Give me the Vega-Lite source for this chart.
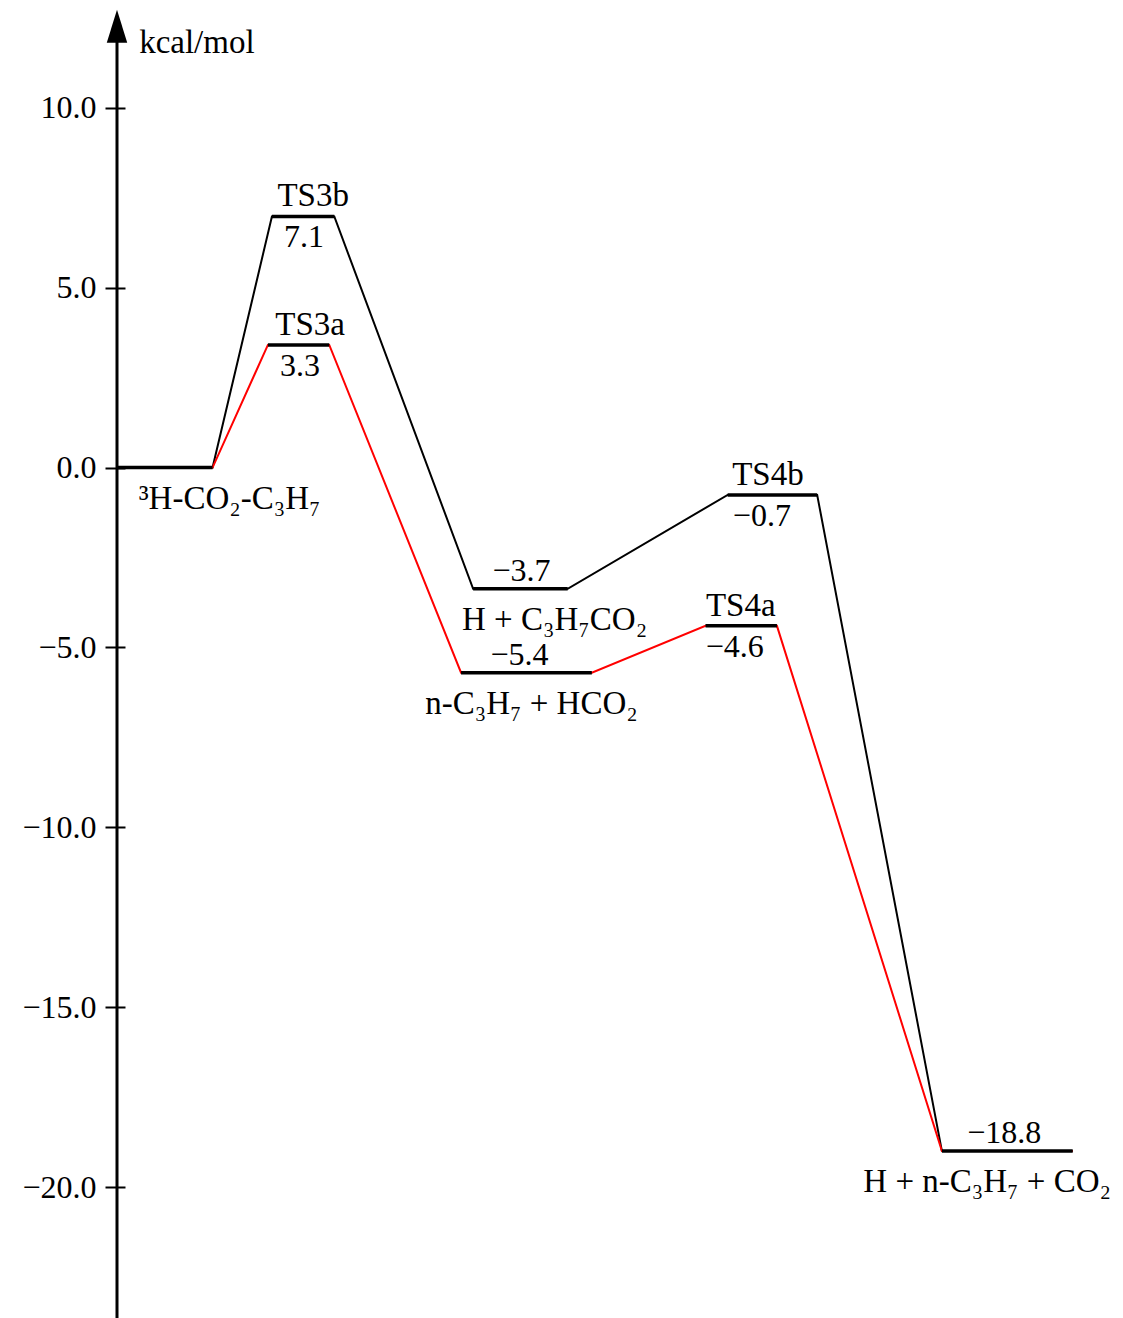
{
  "$schema": "https://vega.github.io/schema/vega-lite/v6.json",
  "width": 1006,
  "height": 1308,
  "autosize": {"type": "none"},
  "padding": {"left": 117, "top": 10, "right": 0, "bottom": 0},
  "background": "white",
  "config": {"view": {"stroke": null}, "font": "Liberation Serif"},
  "datasets": {
    "paths": [
      {"path": "b", "x": 0, "e": 0},
      {"path": "b", "x": 0.95, "e": 0},
      {"path": "b", "x": 1.54, "e": 6.98},
      {"path": "b", "x": 2.16, "e": 6.98},
      {"path": "b", "x": 3.54, "e": -3.37},
      {"path": "b", "x": 4.48, "e": -3.37},
      {"path": "b", "x": 6.07, "e": -0.76},
      {"path": "b", "x": 6.96, "e": -0.76},
      {"path": "b", "x": 8.2, "e": -19.0},
      {"path": "b", "x": 9.5, "e": -19.0},
      {"path": "a", "x": 0, "e": 0},
      {"path": "a", "x": 0.95, "e": 0},
      {"path": "a", "x": 1.5, "e": 3.41},
      {"path": "a", "x": 2.11, "e": 3.41},
      {"path": "a", "x": 3.42, "e": -5.7},
      {"path": "a", "x": 4.72, "e": -5.7},
      {"path": "a", "x": 5.85, "e": -4.4},
      {"path": "a", "x": 6.56, "e": -4.4},
      {"path": "a", "x": 8.2, "e": -19.0},
      {"path": "a", "x": 9.5, "e": -19.0}
    ],
    "levels": [
      {"state": "3H-CO2-C3H7", "x": 0, "x2": 0.95, "e": 0},
      {"state": "TS3b", "x": 1.54, "x2": 2.16, "e": 6.98},
      {"state": "TS3a", "x": 1.5, "x2": 2.11, "e": 3.41},
      {"state": "H + C3H7CO2", "x": 3.54, "x2": 4.48, "e": -3.37},
      {"state": "n-C3H7 + HCO2", "x": 3.42, "x2": 4.72, "e": -5.7},
      {"state": "TS4b", "x": 6.07, "x2": 6.96, "e": -0.76},
      {"state": "TS4a", "x": 5.85, "x2": 6.56, "e": -4.4},
      {"state": "H + n-C3H7 + CO2", "x": 8.2, "x2": 9.5, "e": -19.0}
    ],
    "labels": [
      {"text": "TS3b", "kind": "name", "side": "above", "x": 1.95, "e": 6.98},
      {"text": "7.1", "kind": "value", "side": "below", "x": 1.86, "e": 6.98},
      {"text": "TS3a", "kind": "name", "side": "above", "x": 1.92, "e": 3.41},
      {"text": "3.3", "kind": "value", "side": "below", "x": 1.82, "e": 3.41},
      {"text": "³H-CO₂-C₃H₇", "kind": "name", "side": "below", "x": 1.12, "e": 0},
      {"text": "−3.7", "kind": "value", "side": "above", "x": 4.02, "e": -3.37},
      {"text": "H + C₃H₇CO₂", "kind": "name", "side": "below", "x": 4.35, "e": -3.37},
      {"text": "−5.4", "kind": "value", "side": "above", "x": 4.0, "e": -5.7},
      {"text": "n-C₃H₇ + HCO₂", "kind": "name", "side": "below", "x": 4.12, "e": -5.7},
      {"text": "TS4b", "kind": "name", "side": "above", "x": 6.47, "e": -0.76},
      {"text": "−0.7", "kind": "value", "side": "below", "x": 6.41, "e": -0.76},
      {"text": "TS4a", "kind": "name", "side": "above", "x": 6.2, "e": -4.4},
      {"text": "−4.6", "kind": "value", "side": "below", "x": 6.14, "e": -4.4},
      {"text": "−18.8", "kind": "value", "side": "above", "x": 8.82, "e": -19.0},
      {"text": "H + n-C₃H₇ + CO₂", "kind": "name", "side": "below", "x": 8.65, "e": -19.0}
    ]
  },
  "layer": [
    {"data": {"name": "paths"}, "transform": [{"filter": "datum.path === 'b'"}],
     "mark": {"type": "line", "color": "black", "strokeWidth": 2},
     "encoding": {
       "x": {"field": "x", "type": "quantitative", "scale": {"domain": [0, 10], "nice": false, "zero": false}, "axis": null},
       "y": {
         "field": "e", "type": "quantitative",
         "scale": {"domain": [-23.64, 12.72], "nice": false, "zero": false},
         "axis": {
           "values": [-20, -15, -10, -5, 0, 5, 10], "format": ".1f",
           "domain": false, "grid": false, "ticks": true, "tickSize": 20, "tickWidth": 2, "tickColor": "black",
           "offset": -8, "labelFont": "Liberation Serif", "labelFontSize": 32, "labelColor": "black",
           "labelPadding": 9, "title": null
         }
       }
     }},
    {"data": {"name": "paths"}, "transform": [{"filter": "datum.path === 'a'"}],
     "mark": {"type": "line", "color": "#ff0000", "strokeWidth": 2},
     "encoding": {
       "x": {"field": "x", "type": "quantitative", "scale": {"domain": [0, 10], "nice": false, "zero": false}},
       "y": {"field": "e", "type": "quantitative", "scale": {"domain": [-23.64, 12.72], "nice": false, "zero": false}}
     }},
    {"data": {"name": "levels"},
     "mark": {"type": "rule", "color": "black", "strokeWidth": 3.5, "strokeCap": "butt"},
     "encoding": {
       "x": {"field": "x", "type": "quantitative", "scale": {"domain": [0, 10], "nice": false, "zero": false}},
       "x2": {"field": "x2"},
       "y": {"field": "e", "type": "quantitative", "scale": {"domain": [-23.64, 12.72], "nice": false, "zero": false}}
     }},
    {"data": {"values": [{}]},
     "mark": {"type": "rule", "color": "black", "strokeWidth": 3, "strokeCap": "butt"},
     "encoding": {
       "x": {"datum": 0, "type": "quantitative"},
       "y": {"datum": -23.64, "type": "quantitative"},
       "y2": {"datum": 11.9}
     }},
    {"data": {"values": [{}]},
     "mark": {"type": "point", "shape": "M0,-1L0.62,1L-0.62,1Z", "size": 1089, "filled": true, "color": "black", "opacity": 1, "strokeWidth": 0},
     "encoding": {
       "x": {"datum": 0, "type": "quantitative"},
       "y": {"datum": 12.27, "type": "quantitative"}
     }},
    {"data": {"values": [{"unit": "kcal/mol"}]},
     "mark": {"type": "text", "align": "left", "baseline": "alphabetic", "fontSize": 33, "font": "Liberation Serif", "color": "black"},
     "encoding": {
       "x": {"datum": 0.22, "type": "quantitative"},
       "y": {"datum": 11.53, "type": "quantitative"},
       "text": {"field": "unit"}
     }},
    {"data": {"name": "labels"}, "transform": [{"filter": "datum.kind === 'name' && datum.side === 'above'"}],
     "mark": {"type": "text", "align": "center", "baseline": "alphabetic", "dy": -10, "fontSize": 33, "font": "Liberation Serif", "color": "black"},
     "encoding": {
       "x": {"field": "x", "type": "quantitative"},
       "y": {"field": "e", "type": "quantitative"},
       "text": {"field": "text"}
     }},
    {"data": {"name": "labels"}, "transform": [{"filter": "datum.kind === 'name' && datum.side === 'below'"}],
     "mark": {"type": "text", "align": "center", "baseline": "alphabetic", "dy": 41, "fontSize": 33, "font": "Liberation Serif", "color": "black"},
     "encoding": {
       "x": {"field": "x", "type": "quantitative"},
       "y": {"field": "e", "type": "quantitative"},
       "text": {"field": "text"}
     }},
    {"data": {"name": "labels"}, "transform": [{"filter": "datum.kind === 'value' && datum.side === 'above'"}],
     "mark": {"type": "text", "align": "center", "baseline": "alphabetic", "dy": -8, "fontSize": 32, "font": "Liberation Serif", "color": "black"},
     "encoding": {
       "x": {"field": "x", "type": "quantitative"},
       "y": {"field": "e", "type": "quantitative"},
       "text": {"field": "text"}
     }},
    {"data": {"name": "labels"}, "transform": [{"filter": "datum.kind === 'value' && datum.side === 'below'"}],
     "mark": {"type": "text", "align": "center", "baseline": "alphabetic", "dy": 31, "fontSize": 32, "font": "Liberation Serif", "color": "black"},
     "encoding": {
       "x": {"field": "x", "type": "quantitative"},
       "y": {"field": "e", "type": "quantitative"},
       "text": {"field": "text"}
     }}
  ]
}
